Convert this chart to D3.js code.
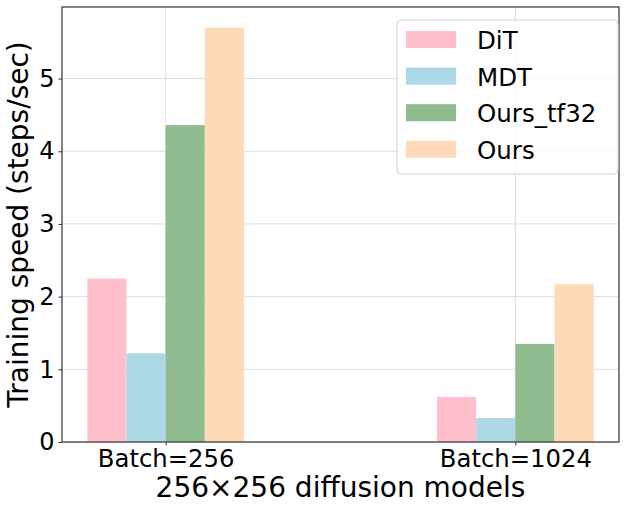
<!DOCTYPE html>
<html>
<head>
<meta charset="utf-8">
<script src="https://cdn.jsdelivr.net/npm/d3@7"></script>
<style>
  body { margin: 0; background: #fff; }
  text { font-family: "DejaVu Sans", sans-serif; fill: #000; }
</style>
</head>
<body>
<div id="my_chart"></div>
<script>
// data
var categories = ["Batch=256", "Batch=1024"];
var seriesNames = ["DiT", "MDT", "Ours_tf32", "Ours"];
var ditValues = [2.25, 0.62];
var mdtValues = [1.22, 0.33];
var oursTf32Values = [4.36, 1.35];
var oursValues = [5.70, 2.17];
var yTicks = [0, 1, 2, 3, 4, 5];

var seriesValues = [ditValues, mdtValues, oursTf32Values, oursValues];
var colors = ["#ffc0cb", "#add8e6", "#8fbc8f", "#ffdab9"];

// set the dimensions and margins of the graph
var W = 627, H = 512;
var margin = {top: 7, right: 8, bottom: 70, left: 62},
    width = W - margin.left - margin.right,
    height = H - margin.top - margin.bottom;

var svg = d3.select("#my_chart")
  .append("svg")
    .attr("width", W)
    .attr("height", H);

var g = svg.append("g")
    .attr("transform", "translate(" + margin.left + "," + margin.top + ")");

// bar width in category units (matplotlib style: groups at 0,1,...)
var barW = 0.112;
var lo = -2 * barW, hi = categories.length - 1 + 2 * barW;
var pad = (hi - lo) * 0.05;

var x = d3.scaleLinear()
  .domain([lo - pad, hi + pad])
  .range([0, width]);

var y = d3.scaleLinear()
  .domain([0, d3.max(oursValues) * 1.05])
  .range([height, 0]);

// grid
g.append("g").selectAll("line.hgrid")
  .data(yTicks)
  .enter().append("line")
    .attr("x1", 0).attr("x2", width)
    .attr("y1", function(d) { return y(d); })
    .attr("y2", function(d) { return y(d); })
    .attr("stroke", "#dcdcdc")
    .attr("stroke-width", 1);

g.append("g").selectAll("line.vgrid")
  .data(categories)
  .enter().append("line")
    .attr("x1", function(d, i) { return x(i); })
    .attr("x2", function(d, i) { return x(i); })
    .attr("y1", 0).attr("y2", height)
    .attr("stroke", "#dcdcdc")
    .attr("stroke-width", 1);

// Bars
seriesValues.forEach(function(vals, s) {
  g.append("g").selectAll("rect")
    .data(vals)
    .enter().append("rect")
      .attr("x", function(d, i) { return x(i + (s - 2) * barW); })
      .attr("y", function(d) { return y(d); })
      .attr("width", function(d, i) { return x(i + (s - 1) * barW) - x(i + (s - 2) * barW); })
      .attr("height", function(d) { return y(0) - y(d); })
      .attr("fill", colors[s]);
});

// Y axis
var yAxis = g.append("g")
  .call(d3.axisLeft(y).tickValues(yTicks).tickSize(3.5).tickPadding(4).tickFormat(d3.format("d")));
yAxis.select(".domain").remove();
yAxis.selectAll("line").attr("stroke", "#333");
yAxis.selectAll("text")
  .style("font-size", "24px")
  .style("font-family", "DejaVu Sans")
  .attr("fill", "#000");

// X axis
var xAxis = g.append("g")
  .attr("transform", "translate(0," + height + ")")
  .call(d3.axisBottom(x)
    .tickValues(d3.range(categories.length))
    .tickFormat(function(d) { return categories[d]; })
    .tickSize(3.5).tickPadding(4));
xAxis.select(".domain").remove();
xAxis.selectAll("line").attr("stroke", "#333");
xAxis.selectAll("text")
  .style("font-size", "24.3px")
  .style("font-family", "DejaVu Sans")
  .attr("fill", "#000");

// frame
g.append("rect")
  .attr("x", 0).attr("y", 0)
  .attr("width", width).attr("height", height)
  .attr("fill", "none")
  .attr("stroke", "#333")
  .attr("stroke-width", 1.2);

// axis labels
svg.append("text")
  .attr("x", margin.left + width / 2)
  .attr("y", 497)
  .attr("text-anchor", "middle")
  .style("font-size", "28px")
  .text("256×256 diffusion models");

svg.append("text")
  .attr("transform", "translate(28," + (margin.top + height / 2) + ") rotate(-90)")
  .attr("text-anchor", "middle")
  .style("font-size", "28px")
  .text("Training speed (steps/sec)");

// legend
var leg = svg.append("g").attr("transform", "translate(397,20)");
leg.append("rect")
  .attr("width", 221).attr("height", 154)
  .attr("rx", 4).attr("ry", 4)
  .attr("fill", "#fff").attr("fill-opacity", 0.8)
  .attr("stroke", "#d0d0d0");

seriesNames.forEach(function(name, s) {
  var row = leg.append("g").attr("transform", "translate(0," + (11 + s * 36.6) + ")");
  row.append("rect")
    .attr("x", 9).attr("width", 50).attr("height", 17)
    .attr("fill", colors[s]);
  row.append("text")
    .attr("x", 80).attr("y", 18)
    .style("font-size", "24.5px")
    .text(name);
});
</script>
</body>
</html>
